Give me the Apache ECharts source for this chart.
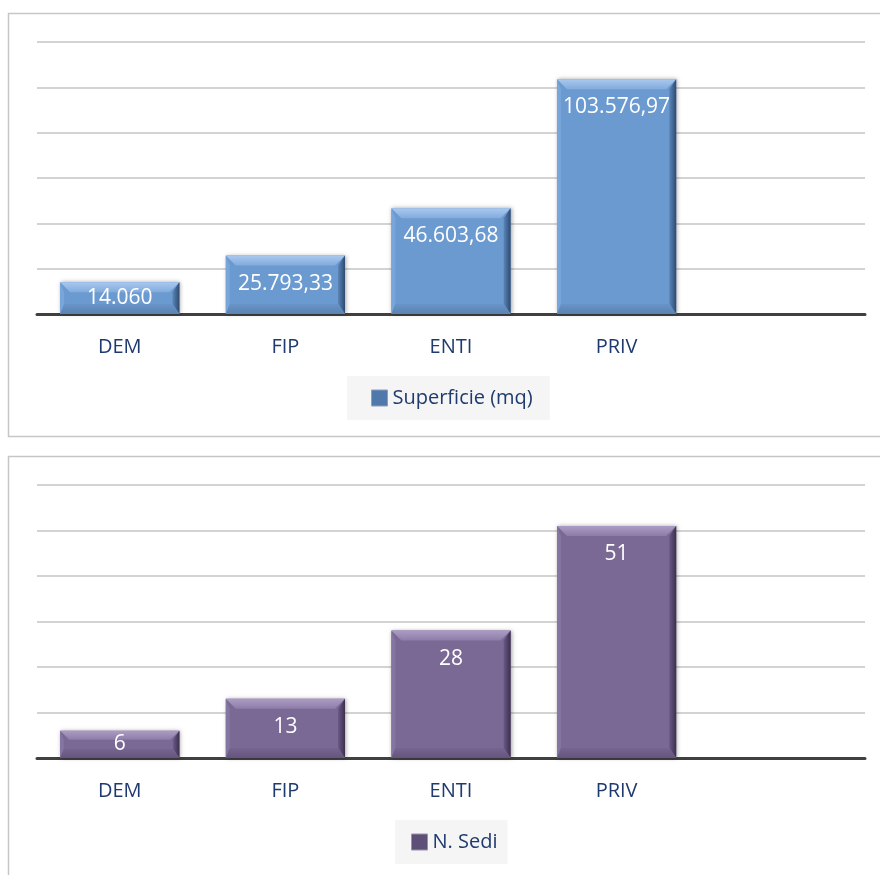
<!DOCTYPE html>
<html>
<head>
<meta charset="utf-8">
<script src="https://cdn.jsdelivr.net/npm/echarts@6/dist/echarts.min.js"></script>
<style>
	html, body { margin: 0; padding: 0; background: #fff; }
	#chart { width: 880px; height: 875px; }
</style>
</head>
<body>
<div id="chart"></div>
<script>
// dati
const categories = ['DEM', 'FIP', 'ENTI', 'PRIV', ''];
const superficie = [14060, 25793.33, 46603.68, 103576.97];
const sedi = [6, 13, 28, 51];
const supAxis = { max: 120000, interval: 20000 };
const sediAxis = { max: 60, interval: 10 };

const navy = '#1f3a6e';
const font = '"Open Sans", "Noto Sans", sans-serif';

// formato italiano: 103.576,97
function fmt(v) {
	let parts = (Math.round(v * 100) / 100).toFixed(2).split('.');
	let int = parts[0].replace(/\B(?=(\d{3})+(?!\d))/g, '.');
	return parts[1] === '00' ? int : int + ',' + parts[1];
}

function lin(x2, y2, stops) {
	return { type: 'linear', x: 0, y: 0, x2: x2, y2: y2, colorStops: stops.map((c, i) => ({ offset: i / (stops.length - 1), color: c })) };
}

// barra con effetto smussato
function bevelBar(pal) {
	return function (params, api) {
		let top = api.coord([api.value(0), api.value(1)]);
		let base = api.coord([api.value(0), 0]);
		let w = api.size([1, 0])[0] * 0.72;
		let x0 = top[0] - w / 2, x1 = x0 + w, y0 = top[1], y1 = base[1];
		let h = y1 - y0;
		let b = Math.min(10, h / 3);
		let ly = h > 56 ? y0 + 28 : (y0 + y1) / 2;
		return {
			type: 'group',
			children: [
				{ type: 'rect', shape: { x: x0, y: y0, width: w, height: h },
					style: { fill: pal.main, shadowBlur: 4, shadowColor: 'rgba(0,0,0,0.35)', shadowOffsetX: 1 } },
				{ type: 'polygon', shape: { points: [[x0, y0], [x1, y0], [x1 - b, y0 + b], [x0 + b, y0 + b]] },
					style: { fill: lin(0, 1, pal.top) } },
				{ type: 'polygon', shape: { points: [[x0, y0], [x0 + b * 0.4, y0 + b], [x0 + b * 0.4, y1 - b], [x0, y1]] },
					style: { fill: pal.left } },
				{ type: 'polygon', shape: { points: [[x1, y0], [x1, y1], [x1 - b * 0.7, y1 - b], [x1 - b * 0.7, y0 + b]] },
					style: { fill: lin(1, 0, pal.right) } },
				{ type: 'polygon', shape: { points: [[x0, y1], [x1, y1], [x1 - b * 0.7, y1 - b], [x0 + b * 0.4, y1 - b]] },
					style: { fill: lin(0, 1, pal.bottom) } },
				{ type: 'text', style: { text: fmt(api.value(1)), x: (x0 + x1) / 2, y: ly, fill: '#fff',
					font: '21px ' + font, align: 'center', verticalAlign: 'middle' } }
			]
		};
	};
}

const blue = {
	main: '#6b9ad0',
	top: ['#a9c8ee', '#82acdc'],
	left: '#78a5da',
	right: ['#5b86bb', '#2f4a6e'],
	bottom: ['#6894c8', '#5a82b2']
};
const purple = {
	main: '#7a6895',
	top: ['#ab9cc4', '#8d7ca8'],
	left: '#8575a1',
	right: ['#6a5986', '#3b2f4c'],
	bottom: ['#75648f', '#65557e']
};

let chart = echarts.init(document.getElementById('chart'));

function xAxis(gridIndex) {
	return {
		type: 'category', gridIndex: gridIndex, data: categories,
		axisLine: { lineStyle: { color: '#404040', width: 3 } },
		axisTick: { show: false },
		axisLabel: { color: navy, fontSize: 20, fontFamily: font, margin: 23, interval: 0 }
	};
}

function yAxis(gridIndex, ax) {
	return {
		type: 'value', gridIndex: gridIndex, min: 0, max: ax.max, interval: ax.interval,
		axisLabel: { show: false }, axisLine: { show: false }, axisTick: { show: false },
		splitLine: { lineStyle: { color: '#c4c4c4', width: 1.5 } }
	};
}

let option = {
	animation: false,
	grid: [
		{ left: 37, right: 15, top: 42, height: 272 },
		{ left: 37, right: 15, top: 485, height: 273 }
	],
	xAxis: [xAxis(0), xAxis(1)],
	yAxis: [yAxis(0, supAxis), yAxis(1, sediAxis)],
	legend: [
		{ data: [{ name: 'Superficie (mq)', icon: 'rect', itemStyle: { color: '#4f79ab', borderColor: '#8aa0bd', borderWidth: 1 } }],
			left: 347, top: 376, padding: [12, 17, 12, 24], itemWidth: 16, itemHeight: 16,
			backgroundColor: '#f5f5f5', textStyle: { color: navy, fontSize: 20, fontFamily: font } },
		{ data: [{ name: 'N. Sedi', icon: 'rect', itemStyle: { color: '#5e4f78', borderColor: '#9a92a8', borderWidth: 1 } }],
			left: 395, top: 820, padding: [12, 10, 12, 16], itemWidth: 16, itemHeight: 16,
			backgroundColor: '#f5f5f5', textStyle: { color: navy, fontSize: 20, fontFamily: font } }
	],
	graphic: [
		{ type: 'rect', z: -1, shape: { x: 8.5, y: 13.5, width: 900, height: 423 },
			style: { fill: 'none', stroke: '#c6c6c6', lineWidth: 1.5 } },
		{ type: 'rect', z: -1, shape: { x: 8.5, y: 456.5, width: 900, height: 450 },
			style: { fill: 'none', stroke: '#c6c6c6', lineWidth: 1.5 } }
	],
	series: [
		{ name: 'Superficie (mq)', type: 'custom', xAxisIndex: 0, yAxisIndex: 0,
			itemStyle: { color: '#4f79ab' }, encode: { x: 0, y: 1 },
			data: superficie.map((v, i) => [i, v]), renderItem: bevelBar(blue) },
		{ name: 'N. Sedi', type: 'custom', xAxisIndex: 1, yAxisIndex: 1,
			itemStyle: { color: '#5e4f78' }, encode: { x: 0, y: 1 },
			data: sedi.map((v, i) => [i, v]), renderItem: bevelBar(purple) }
	]
};

chart.setOption(option);
</script>
</body>
</html>
